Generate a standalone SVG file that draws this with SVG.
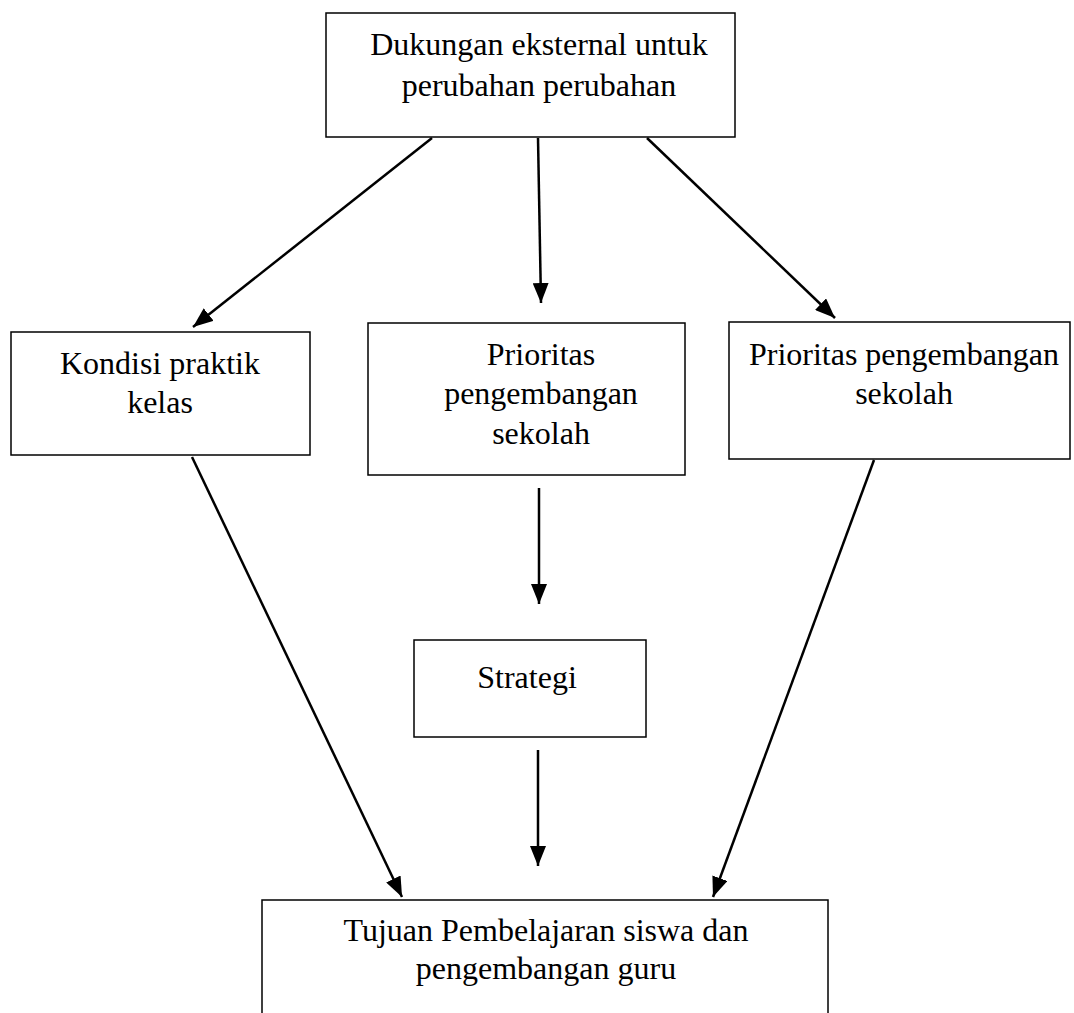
<svg xmlns="http://www.w3.org/2000/svg" width="1074" height="1013" viewBox="0 0 1074 1013">
<defs>
<marker id="ah" viewBox="0 0 20 16" refX="20" refY="8" markerWidth="20" markerHeight="16" markerUnits="userSpaceOnUse" orient="auto">
<path d="M0,0 L20,8 L0,16 z" fill="#000"/>
</marker>
<style>
.box{fill:#fff;stroke:#000;stroke-width:1.5}
.t{font-family:"Liberation Serif","Times New Roman",serif;font-size:32px;fill:#000;text-anchor:middle}
.c{stroke:#000;stroke-width:2.5;fill:none;marker-end:url(#ah)}
</style>
</defs>
<rect width="1074" height="1013" fill="#fff"/>
<g id="connectors">
<line class="c" x1="432" y1="138" x2="193" y2="327"/>
<line class="c" x1="538" y1="138" x2="541" y2="303"/>
<line class="c" x1="647" y1="138" x2="835" y2="318"/>
<line class="c" x1="192" y1="457" x2="402" y2="897"/>
<line class="c" x1="539" y1="488" x2="539" y2="604"/>
<line class="c" x1="538" y1="750" x2="538" y2="866"/>
<line class="c" x1="874" y1="460" x2="713" y2="897"/>
</g>
<g id="n1"><rect class="box" x="326" y="13" width="409" height="124"/><text class="t" x="539" y="55">Dukungan eksternal untuk</text><text class="t" x="539" y="96">perubahan perubahan</text></g>
<g id="n2"><rect class="box" x="11" y="332" width="299" height="123"/><text class="t" x="160" y="374">Kondisi praktik</text><text class="t" x="160" y="413">kelas</text></g>
<g id="n3"><rect class="box" x="368" y="323" width="317" height="152"/><text class="t" x="541" y="365">Prioritas</text><text class="t" x="541" y="404">pengembangan</text><text class="t" x="541" y="444">sekolah</text></g>
<g id="n4"><rect class="box" x="729" y="322" width="341" height="137"/><text class="t" x="904" y="365">Prioritas pengembangan</text><text class="t" x="904" y="404">sekolah</text></g>
<g id="n5"><rect class="box" x="414" y="640" width="232" height="97"/><text class="t" x="527" y="688">Strategi</text></g>
<g id="n6"><rect class="box" x="262" y="900" width="566" height="130"/><text class="t" x="546" y="941">Tujuan Pembelajaran siswa dan</text><text class="t" x="546" y="979">pengembangan guru</text></g>
</svg>
